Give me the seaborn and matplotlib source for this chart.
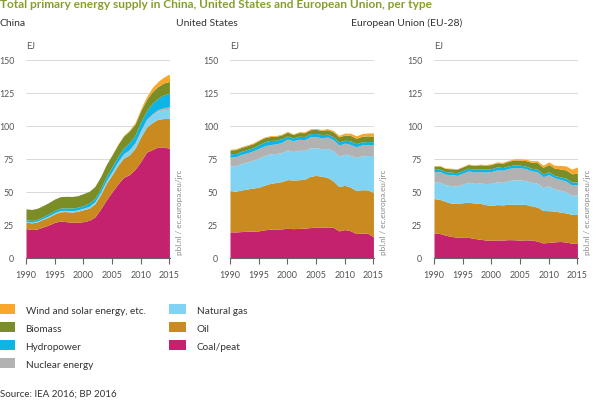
import numpy as np
import pandas as pd
import matplotlib
matplotlib.use("Agg")
import matplotlib.pyplot as plt
import seaborn as sns
from matplotlib.patches import Patch


# -------------------------------
# DATA (EJ per year)
# -------------------------------
years = list(range(1990, 2016))

sources = ["Coal/peat", "Oil", "Natural gas", "Nuclear energy",
           "Hydropower", "Biomass", "Wind and solar energy, etc."]

china_coal = [22.3, 21.5, 22.0, 23.5, 25.0, 27.0, 28.0, 27.5, 27.0, 27.0, 27.5, 28.5, 31.0,
              37.0, 44.0, 50.0, 56.0, 61.0, 63.0, 67.0, 73.0, 80.0, 82.0, 84.0, 84.0, 83.0]
china_oil = [4.8, 5.1, 5.4, 5.8, 6.1, 6.4, 7.0, 7.6, 7.8, 8.3, 9.0, 9.2, 10.0,
             11.0, 12.5, 13.0, 14.0, 14.5, 15.0, 16.0, 18.5, 19.0, 20.5, 21.0, 21.5, 22.5]
china_gas = [0.6, 0.6, 0.6, 0.6, 0.7, 0.7, 0.8, 0.8, 0.8, 0.9, 1.0, 1.1, 1.2,
             1.3, 1.5, 1.8, 2.2, 2.7, 3.1, 3.4, 4.1, 4.9, 5.5, 6.1, 6.6, 7.0]
china_nuclear = [0.0, 0.0, 0.0, 0.05, 0.15, 0.15, 0.15, 0.15, 0.15, 0.15, 0.2, 0.2, 0.3,
                 0.5, 0.5, 0.6, 0.6, 0.7, 0.8, 0.8, 0.8, 1.0, 1.1, 1.2, 1.5, 1.9]
china_hydro = [1.2, 1.2, 1.3, 1.4, 1.6, 1.8, 1.8, 1.9, 2.0, 2.0, 2.1, 2.5, 2.6,
               2.7, 3.2, 3.6, 3.9, 4.3, 5.3, 5.5, 6.5, 6.3, 8.0, 8.5, 9.8, 10.2]
china_biomass = [8.3, 8.3, 8.4, 8.4, 8.5, 8.6, 8.7, 8.7, 8.8, 8.8, 8.9, 8.9, 9.0,
                 9.0, 9.0, 9.0, 9.0, 9.0, 8.8, 8.6, 8.5, 8.6, 8.8, 8.9, 9.0, 9.0]
china_wind = [0.0, 0.0, 0.0, 0.0, 0.0, 0.0, 0.0, 0.0, 0.0, 0.0, 0.05, 0.05, 0.1,
              0.1, 0.1, 0.2, 0.3, 0.5, 0.7, 1.0, 1.5, 2.2, 3.0, 3.8, 4.5, 5.5]

us_coal = [19.8, 19.7, 20.0, 20.2, 20.4, 20.5, 21.3, 21.8, 21.9, 22.0, 22.5, 22.2, 22.4,
           22.6, 23.0, 23.5, 23.3, 23.5, 23.2, 20.5, 21.5, 20.6, 18.5, 18.9, 18.7, 16.0]
us_oil = [31.2, 30.8, 31.5, 32.0, 32.5, 33.0, 33.8, 34.6, 35.2, 35.8, 36.8, 36.8, 36.8,
          37.0, 38.8, 39.0, 38.5, 37.5, 35.0, 33.5, 33.5, 33.0, 32.5, 32.8, 32.8, 33.5]
us_gas = [18.7, 19.3, 20.0, 20.5, 21.0, 22.0, 22.3, 22.4, 21.9, 21.9, 22.5, 21.5, 22.3,
          21.8, 21.5, 21.0, 20.7, 22.0, 22.8, 23.0, 23.5, 24.0, 25.0, 25.6, 26.0, 28.0]
us_nuclear = [6.5, 6.8, 6.9, 6.8, 7.1, 7.4, 7.4, 7.0, 7.3, 7.8, 8.1, 8.3, 8.3,
              8.1, 8.4, 8.3, 8.3, 8.5, 8.5, 8.4, 8.4, 8.3, 8.1, 8.3, 8.4, 8.3]
us_hydro = [2.6, 2.5, 2.3, 2.6, 2.4, 2.8, 3.1, 3.1, 2.8, 2.7, 2.4, 1.9, 2.3,
            2.4, 2.4, 2.4, 2.5, 2.2, 2.2, 2.4, 2.2, 2.7, 2.4, 2.3, 2.2, 2.2]
us_biomass = [2.9, 2.9, 3.0, 2.9, 3.0, 3.1, 3.1, 3.0, 2.9, 2.9, 2.9, 2.7, 2.8,
              2.9, 3.0, 3.1, 3.2, 3.4, 3.7, 3.8, 4.0, 4.1, 4.0, 4.2, 4.3, 4.2]
us_wind = [0.6, 0.6, 0.6, 0.6, 0.6, 0.6, 0.6, 0.6, 0.6, 0.6, 0.6, 0.5, 0.6,
           0.6, 0.6, 0.6, 0.7, 0.8, 1.0, 1.2, 1.4, 1.7, 1.9, 2.0, 2.2, 2.4]

eu_coal = [19.0, 18.5, 17.3, 16.3, 15.8, 15.6, 15.6, 14.8, 14.2, 13.6, 13.5, 13.6, 13.6,
           13.9, 13.8, 13.5, 13.7, 13.6, 12.8, 11.4, 11.8, 12.2, 12.5, 12.1, 11.2, 11.0]
eu_oil = [26.0, 25.8, 25.5, 25.2, 25.5, 26.2, 26.6, 26.8, 27.2, 26.8, 26.3, 26.8, 26.6,
          26.8, 27.0, 27.2, 26.8, 25.8, 25.7, 24.5, 24.0, 23.3, 22.2, 22.0, 21.8, 22.0]
eu_gas = [12.5, 13.0, 12.6, 13.2, 13.0, 14.0, 15.1, 14.8, 15.3, 15.9, 16.7, 17.2, 17.0,
          17.8, 18.3, 18.4, 18.0, 17.9, 18.1, 17.3, 18.7, 16.8, 16.5, 16.0, 14.3, 14.8]
eu_nuclear = [7.8, 8.0, 8.0, 8.3, 8.2, 8.4, 8.6, 8.7, 8.7, 8.8, 8.9, 9.1, 9.2,
              9.2, 9.3, 9.2, 9.1, 8.6, 8.7, 8.3, 8.5, 8.4, 8.2, 8.1, 7.9, 7.7]
eu_hydro = [1.8, 1.9, 1.9, 2.0, 2.0, 2.0, 2.0, 2.0, 2.1, 2.1, 2.2, 2.2, 2.0,
            2.0, 2.1, 1.9, 1.9, 1.9, 2.0, 2.0, 2.2, 1.8, 2.0, 2.2, 2.2, 2.0]
eu_biomass = [2.4, 2.4, 2.4, 2.5, 2.6, 2.7, 2.8, 2.9, 3.0, 3.0, 3.1, 3.2, 3.3,
              3.5, 3.7, 3.9, 4.2, 4.6, 4.9, 5.1, 5.6, 5.5, 6.0, 6.2, 6.3, 6.6]
eu_wind = [0.4, 0.4, 0.4, 0.4, 0.4, 0.4, 0.4, 0.4, 0.5, 0.5, 0.6, 0.6, 0.7,
           0.7, 0.8, 0.9, 1.0, 1.2, 1.4, 1.6, 1.9, 2.2, 2.6, 3.1, 3.5, 4.8]

regions = ["China", "United States", "European Union (EU-28)"]

colors = {
    "Coal/peat": "#c4216f",
    "Oil": "#c98b20",
    "Natural gas": "#80d3f2",
    "Nuclear energy": "#b2b2b2",
    "Hydropower": "#0db4e6",
    "Biomass": "#7b8d26",
    "Wind and solar energy, etc.": "#f9a72a",
}

TEXT = "#333333"
TICK = "#555555"


def make_frame(coal, oil, gas, nuclear, hydro, biomass, wind):
    return pd.DataFrame({
        "Coal/peat": coal, "Oil": oil, "Natural gas": gas,
        "Nuclear energy": nuclear, "Hydropower": hydro,
        "Biomass": biomass, "Wind and solar energy, etc.": wind,
    }, index=years)


frames = [
    make_frame(china_coal, china_oil, china_gas, china_nuclear, china_hydro, china_biomass, china_wind),
    make_frame(us_coal, us_oil, us_gas, us_nuclear, us_hydro, us_biomass, us_wind),
    make_frame(eu_coal, eu_oil, eu_gas, eu_nuclear, eu_hydro, eu_biomass, eu_wind),
]

# -------------------------------
# PLOT
# -------------------------------
sns.set_theme(style="white")
plt.rcParams["font.family"] = ["Lato", "DejaVu Sans"]

W, H = 607, 406
fig = plt.figure(figsize=(W / 100, H / 100), dpi=100)

ax_lefts = [26, 230, 434]
title_x = [0, 176, 351]
ax_w = 144
ax_top, ax_bottom = 60.7, 259

for left, tx, region, df in zip(ax_lefts, title_x, regions, frames):
    ax = fig.add_axes([left / W, 1 - ax_bottom / H, ax_w / W, (ax_bottom - ax_top) / H])
    ax.stackplot(df.index, [df[s] for s in sources],
                 colors=[colors[s] for s in sources], linewidth=0, zorder=2)
    ax.set_xlim(1990, 2015.1)
    ax.set_ylim(0, 150)
    ax.set_yticks([0, 25, 50, 75, 100, 125, 150])
    ax.set_xticks([1990, 1995, 2000, 2005, 2010, 2015])
    ax.grid(axis="y", color="#d9d9d9", linewidth=0.7, zorder=0)
    ax.grid(axis="x", visible=False)
    sns.despine(ax=ax, left=True, top=True, right=True)
    ax.spines["bottom"].set_color("#666666")
    ax.spines["bottom"].set_linewidth(0.8)
    ax.spines["bottom"].set_zorder(3)
    ax.tick_params(axis="x", bottom=True, length=4, width=0.8, color="#666666",
                   labelsize=6.5, labelcolor=TICK, pad=5)
    ax.tick_params(axis="y", left=False, labelsize=6.3, labelcolor=TICK, pad=2.5)
    ax.set_facecolor("none")
    ax.text(0.0, 1.05, "EJ", transform=ax.transAxes, fontsize=6.5,
            color=TICK, ha="left", va="bottom")
    ax.text(1.04, 0.02, "pbl.nl / ec.europa.eu/jrc", transform=ax.transAxes,
            rotation=90, fontsize=5.8, color="#888888", ha="left", va="bottom")
    fig.text(tx / W, 1 - 23 / H, region, fontsize=7.5, color=TEXT,
             ha="left", va="center")

fig.text(0, 1 - 5 / H,
         "Total primary energy supply in China, United States and European Union, per type",
         fontsize=8.6, fontweight="bold", color="#84a02a", ha="left", va="center")

legend_order = ["Wind and solar energy, etc.", "Biomass", "Hydropower", "Nuclear energy",
                "Natural gas", "Oil", "Coal/peat"]
handles = [Patch(facecolor=colors[s], edgecolor="none", label=s) for s in legend_order]
fig.legend(handles=handles, ncol=2, loc="upper left",
           bbox_to_anchor=(-0.004, 1 - 305 / H), frameon=False,
           fontsize=7.2, labelcolor=TEXT, handlelength=1.7, handleheight=1.2,
           handletextpad=1.1, labelspacing=0.75, columnspacing=2.3,
           borderpad=0, borderaxespad=0)

fig.text(0, 1 - 394 / H, "Source: IEA 2016; BP 2016", fontsize=7,
         color=TEXT, ha="left", va="center")

fig.savefig("out.png", dpi=100)
